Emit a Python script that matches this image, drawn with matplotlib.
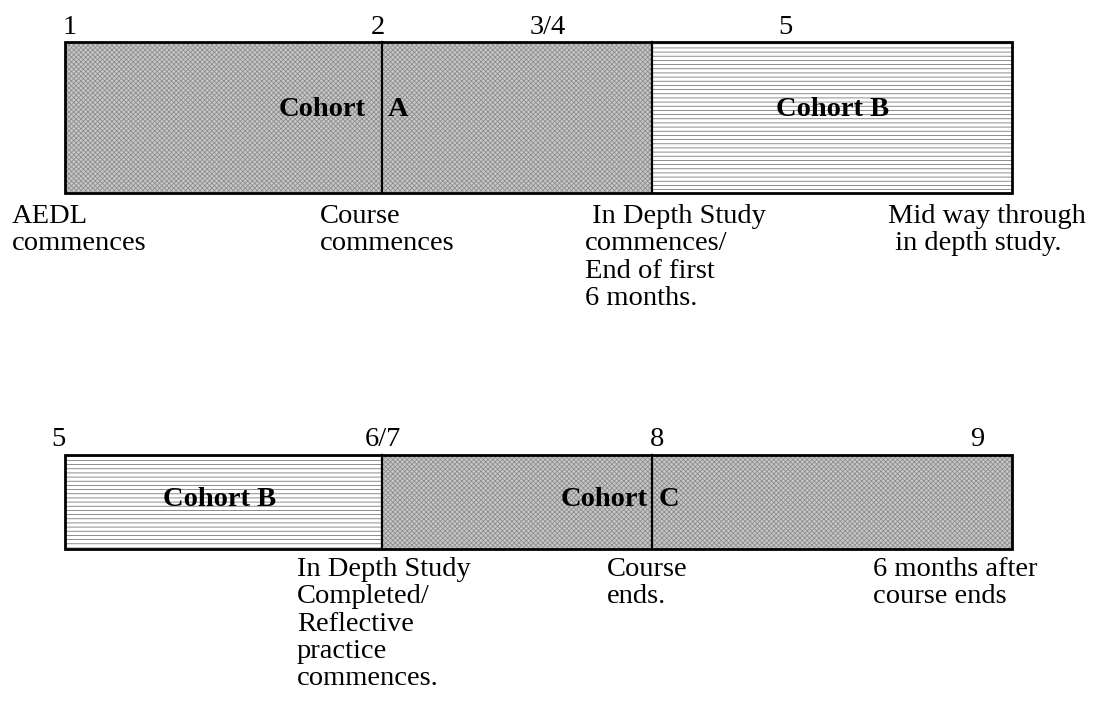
import matplotlib
matplotlib.use('Agg')
import matplotlib.pyplot as plt
from matplotlib.patches import Rectangle

# timeline data
top_milestones = ['1', '2', '3/4', '5']
bottom_milestones = ['5', '6/7', '8', '9']
top_fills = ['dots', 'dots', 'lines']
bottom_fills = ['lines', 'dots', 'dots']
top_cohorts = ['Cohort', 'A', 'Cohort B']
bottom_cohorts = ['Cohort B', 'Cohort', 'C']
top_notes = ['AEDL\ncommences',
             'Course\ncommences',
             ' In Depth Study\ncommences/\nEnd of first\n6 months.',
             'Mid way through\n in depth study.']
bottom_notes = ['In Depth Study\nCompleted/\nReflective\npractice\ncommences.',
                'Course\nends.',
                '6 months after\ncourse ends']

# layout (pixels)
box_left, box_right = 65, 1012
dividers = [382, 652]
top_box = (42, 193)
bottom_box = (455, 549)
top_milestone_x = [70, 378, 548, 785]
bottom_milestone_x = [58, 383, 657, 977]
top_cohort_x = [322, 398, 833]
bottom_cohort_x = [220, 604, 669]
top_note_x = [12, 320, 585, 888]
bottom_note_x = [297, 607, 873]

plt.rcParams['font.family'] = ['Liberation Serif', 'DejaVu Serif']
plt.rcParams['hatch.linewidth'] = 0.6
FS = 20.5

fig = plt.figure(figsize=(10.99, 7.16), dpi=100)
ax = fig.add_axes([0, 0, 1, 1])
ax.set_xlim(0, 1099)
ax.set_ylim(716, 0)
ax.axis('off')


def draw_row(y0, y1, fills, milestones, mx, cohorts, cx, yc, notes, nx, note_gap):
    edges = [box_left] + dividers + [box_right]
    for i, fill in enumerate(fills):
        x0, x1 = edges[i], edges[i + 1]
        if fill == 'dots':
            ax.add_patch(Rectangle((x0, y0), x1 - x0, y1 - y0, facecolor='#c8c8c8',
                                   edgecolor='#8e8e8e', hatch='xxxxxxx', linewidth=0))
        else:
            ax.add_patch(Rectangle((x0, y0), x1 - x0, y1 - y0, facecolor='white',
                                   edgecolor='#7a7a7a', hatch='----', linewidth=0))
    ax.add_patch(Rectangle((box_left, y0), box_right - box_left, y1 - y0,
                           fill=False, edgecolor='black', linewidth=2))
    for d in dividers:
        ax.plot([d, d], [y0, y1], color='black', linewidth=1.6)
    for lab, x in zip(milestones, mx):
        ax.text(x, y0 - 15, lab, fontsize=FS, ha='center', va='center')
    for lab, x in zip(cohorts, cx):
        ax.text(x, yc, lab, fontsize=FS, fontweight='bold', ha='center', va='center')
    for lab, x in zip(notes, nx):
        ax.text(x, y1 + note_gap, lab, fontsize=FS, ha='left', va='top', linespacing=1.12)


draw_row(*top_box, top_fills, top_milestones, top_milestone_x,
         top_cohorts, top_cohort_x, 109, top_notes, top_note_x, 11)
draw_row(*bottom_box, bottom_fills, bottom_milestones, bottom_milestone_x,
         bottom_cohorts, bottom_cohort_x, 499, bottom_notes, bottom_note_x, 8)

fig.savefig('out.png', dpi=100)
